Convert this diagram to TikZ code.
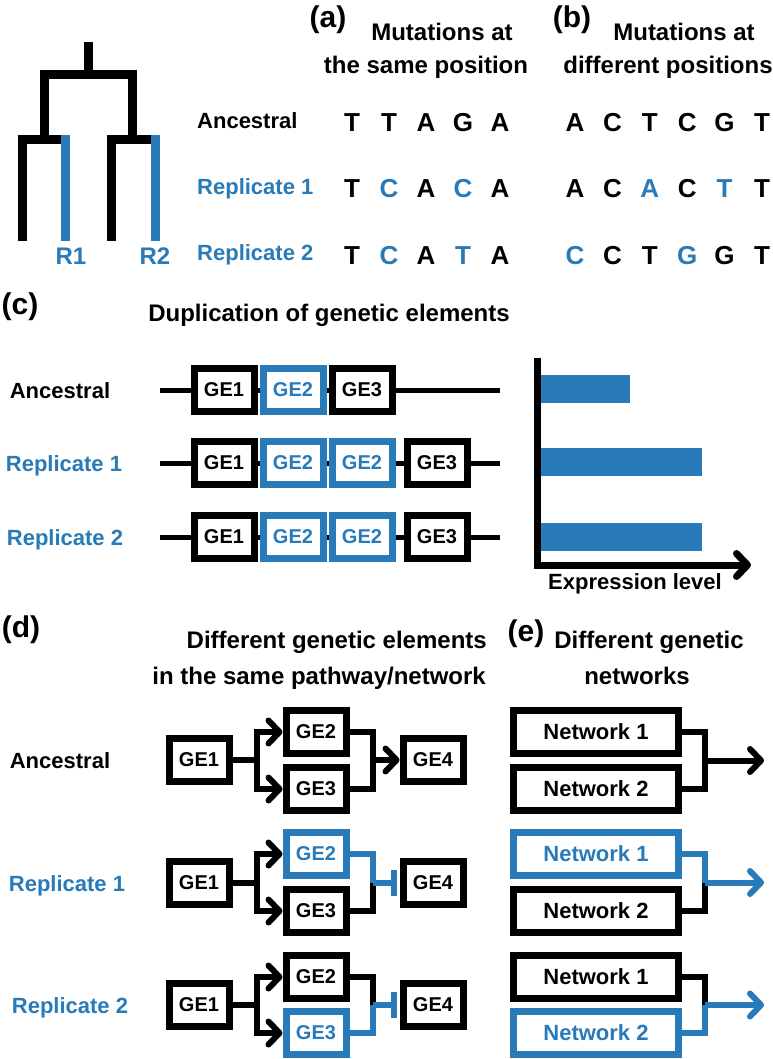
\documentclass[tikz,border=0pt]{standalone}
\usepackage{fontspec}
\setmainfont{Liberation Sans}
\usetikzlibrary{arrows.meta}
\definecolor{rblue}{RGB}{40,122,184}
\begin{document}
\begin{tikzpicture}[x=1pt,y=-1pt,
  lbl/.style={font=\bfseries\fontsize{22}{26}\selectfont, anchor=base, inner sep=0pt},
  head/.style={font=\bfseries\fontsize{24}{28}\selectfont, anchor=base, inner sep=0pt},
  plab/.style={font=\bfseries\fontsize{30}{34}\selectfont, anchor=base, inner sep=0pt},
  nuc/.style={font=\bfseries\fontsize{26}{30}\selectfont, anchor=base, inner sep=0pt},
  gebox/.style={draw, line width=7pt, fill=white, minimum width=60pt, minimum height=43pt, inner sep=0pt, font=\bfseries\fontsize{20}{24}\selectfont},
  netbox/.style={gebox, minimum width=165pt, font=\bfseries\fontsize{22}{26}\selectfont},
  bluebox/.style={draw=rblue, text=rblue},
  tree/.style={line width=9pt, line join=miter},
  chrom/.style={line width=5pt},
  conn/.style={line width=6pt, line join=miter},
  tipb/.tip={Straight Barb[length=11pt,width=23pt,line cap=round,line join=round]},
  arr/.style={conn, -tipb},
  inh/.style={conn, -{Bar[width=26pt]}, shorten >=3pt},
  bar/.style={fill=rblue, minimum height=28pt, inner sep=0pt, anchor=west}
]
\useasboundingbox (0,0) rectangle (772,1059);

% ---------- tree ----------
\draw[tree] (88,42) -- (88,75);
\draw[tree] (44,140) -- (44,75) -- (132,75) -- (132,140);
\draw[tree] (22,241) -- (22,140) -- (65,140);
\draw[tree] (111,241) -- (111,140) -- (155,140);
\draw[tree, rblue] (65,135.5) -- (65,241);
\draw[tree, rblue] (155,135.5) -- (155,241);
\node[head, text=rblue] (r1) at (71,265) {R1};
\node[head, text=rblue] (r2) at (155,265) {R2};

% ---------- (a) and (b) ----------
\node[plab] (pa) at (328,28) {(a)};
\node[head] (ha1) at (442,41) {Mutations at};
\node[head] (ha2) at (426,74) {the same position};
\node[plab] (pb) at (572,28) {(b)};
\node[head] (hb1) at (684,41) {Mutations at};
\node[head] (hb2) at (668,74) {different positions};

\node[lbl, anchor=base west] (labA) at (197,129) {Ancestral};
\node[lbl, anchor=base west, text=rblue] (labR1) at (197,195) {Replicate 1};
\node[lbl, anchor=base west, text=rblue] (labR2) at (197,261) {Replicate 2};

\foreach \l/\c [count=\i] in {T/black,T/black,A/black,G/black,A/black}
  \node[nuc, text=\c] (aA\i) at ({352+37*(\i-1)},132) {\l};
\foreach \l/\c [count=\i] in {T/black,C/rblue,A/black,C/rblue,A/black}
  \node[nuc, text=\c] (aB\i) at ({352+37*(\i-1)},198) {\l};
\foreach \l/\c [count=\i] in {T/black,C/rblue,A/black,T/rblue,A/black}
  \node[nuc, text=\c] (aC\i) at ({352+37*(\i-1)},265) {\l};

\foreach \l/\c [count=\i] in {A/black,C/black,T/black,C/black,G/black,T/black}
  \node[nuc, text=\c] (bA\i) at ({575+37.4*(\i-1)},132) {\l};
\foreach \l/\c [count=\i] in {A/black,C/black,A/rblue,C/black,T/rblue,T/black}
  \node[nuc, text=\c] (bB\i) at ({575+37.4*(\i-1)},198) {\l};
\foreach \l/\c [count=\i] in {C/rblue,C/black,T/black,G/rblue,G/black,T/black}
  \node[nuc, text=\c] (bC\i) at ({575+37.4*(\i-1)},265) {\l};

% ---------- (c) ----------
\node[plab] (pc) at (20,314) {(c)};
\node[head] (hc) at (329,321) {Duplication of genetic elements};
\node[lbl] (cLabA) at (60,398) {Ancestral};
\node[lbl, text=rblue] (cLabR1) at (64,471) {Replicate 1};
\node[lbl, text=rblue] (cLabR2) at (65,545) {Replicate 2};

\coordinate (cA0) at (160,390); \coordinate (cA9) at (500,390);
\coordinate (cB0) at (160,463); \coordinate (cB9) at (500,463);
\coordinate (cC0) at (160,537); \coordinate (cC9) at (500,537);
\draw[chrom] (cA0) -- (cA9);
\draw[chrom] (cB0) -- (cB9);
\draw[chrom] (cC0) -- (cC9);

\node[gebox] (cA1) at (224,390) {GE1};
\node[gebox, bluebox] (cA2) at (293,390) {GE2};
\node[gebox] (cA3) at (362,390) {GE3};

\node[gebox] (cB1) at (224,463) {GE1};
\node[gebox, bluebox] (cB2) at (293,463) {GE2};
\node[gebox, bluebox] (cB3) at (362,463) {GE2};
\node[gebox] (cB4) at (437,463) {GE3};

\node[gebox] (cC1) at (224,537) {GE1};
\node[gebox, bluebox] (cC2) at (293,537) {GE2};
\node[gebox, bluebox] (cC3) at (362,537) {GE2};
\node[gebox] (cC4) at (437,537) {GE3};

% expression plot
\node[bar, minimum width=90pt] (barA) at (540,389) {};
\node[bar, minimum width=162pt] (barB) at (540,462) {};
\node[bar, minimum width=162pt] (barC) at (540,537) {};
\coordinate (axT) at (537,358);
\coordinate (axE) at (751,565);
\draw[line width=7pt, -tipb] (axT) |- (axE);
\node[lbl] (xlab) at (635,589) {Expression level};

% ---------- (d) ----------
\node[plab] (pd) at (21,637) {(d)};
\node[head, anchor=base east] (hd1) at (487,648) {Different genetic elements};
\node[head, anchor=base east] (hd2) at (486,684) {in the same pathway/network};
\node[lbl] (dLabA) at (60,768) {Ancestral};
\node[lbl, text=rblue] (dLabR1) at (67,891) {Replicate 1};
\node[lbl, text=rblue] (dLabR2) at (70,1013) {Replicate 2};

% ancestral
\node[gebox] (dA1) at (199,760) {GE1};
\node[gebox] (dA2) at (316,732) {GE2};
\node[gebox] (dA3) at (316,789) {GE3};
\node[gebox] (dA4) at (433,760) {GE4};
\coordinate (dAj) at (257,760);
\coordinate (dAm) at (373,760);
\draw[conn] (dA1.east) -- (dAj);
\draw[arr] (dAj) |- (dA2.west);
\draw[arr] (dAj) |- (dA3.west);
\draw[conn] (dA2.east) -| (dAm);
\draw[conn] (dA3.east) -| (dAm);
\draw[arr] (dAm) -- (dA4.west);

% replicate 1
\node[gebox] (dB1) at (199,883) {GE1};
\node[gebox, bluebox] (dB2) at (316,854) {GE2};
\node[gebox] (dB3) at (316,911) {GE3};
\node[gebox] (dB4) at (433,883) {GE4};
\coordinate (dBj) at (257,883);
\coordinate (dBm) at (373,883);
\draw[conn] (dB1.east) -- (dBj);
\draw[arr] (dBj) |- (dB2.west);
\draw[arr] (dBj) |- (dB3.west);
\draw[conn] (dB3.east) -| (dBm);
\draw[conn, rblue] (dB2.east) -| (dBm);
\draw[inh, rblue] (dBm) -- (dB4.west);

% replicate 2
\node[gebox] (dC1) at (199,1005) {GE1};
\node[gebox] (dC2) at (316,977) {GE2};
\node[gebox, bluebox] (dC3) at (316,1033) {GE3};
\node[gebox] (dC4) at (433,1005) {GE4};
\coordinate (dCj) at (257,1005);
\coordinate (dCm) at (373,1005);
\draw[conn] (dC1.east) -- (dCj);
\draw[arr] (dCj) |- (dC2.west);
\draw[arr] (dCj) |- (dC3.west);
\draw[conn] (dC2.east) -| (dCm);
\draw[conn, rblue] (dC3.east) -| (dCm);
\draw[inh, rblue] (dCm) -- (dC4.west);

% ---------- (e) ----------
\node[plab] (pe) at (526,641) {(e)};
\node[head] (he1) at (649,648) {Different genetic};
\node[head] (he2) at (637,684) {networks};

\node[netbox] (eA1) at (596,732) {Network 1};
\node[netbox] (eA2) at (596,789) {Network 2};
\coordinate (eAm) at (705,760.5);
\coordinate (eAt) at (764,760.5);
\draw[conn] (eA1.east) -| (eAm);
\draw[conn] (eA2.east) -| (eAm);
\draw[arr] (eAm) -- (eAt);

\node[netbox, bluebox] (eB1) at (596,854) {Network 1};
\node[netbox] (eB2) at (596,911) {Network 2};
\coordinate (eBm) at (705,882.5);
\coordinate (eBt) at (764,882.5);
\draw[conn] (eB2.east) -| (eBm);
\draw[conn, rblue] (eB1.east) -| (eBm);
\draw[arr, rblue] (eBm) -- (eBt);

\node[netbox] (eC1) at (596,977) {Network 1};
\node[netbox, bluebox] (eC2) at (596,1033) {Network 2};
\coordinate (eCm) at (705,1005);
\coordinate (eCt) at (764,1005);
\draw[conn] (eC1.east) -| (eCm);
\draw[conn, rblue] (eC2.east) -| (eCm);
\draw[arr, rblue] (eCm) -- (eCt);

\end{tikzpicture}
\end{document}
